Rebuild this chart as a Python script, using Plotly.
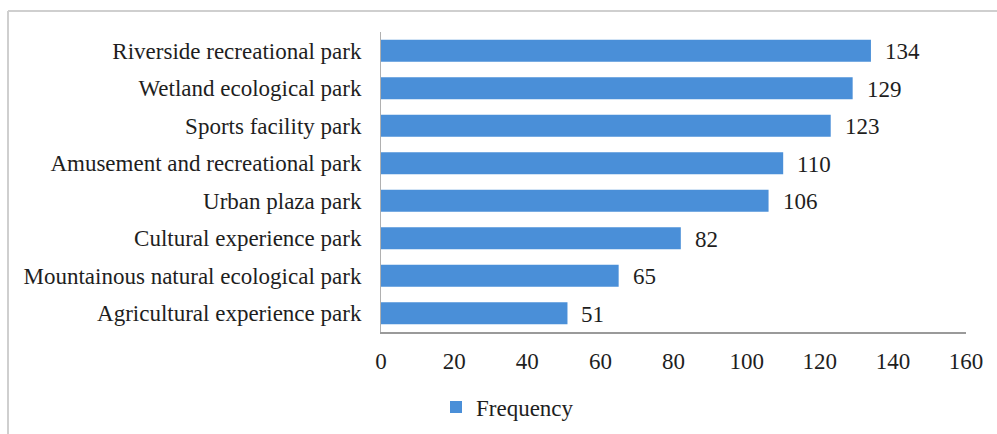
import plotly.graph_objects as go

categories = [
    "Riverside recreational park",
    "Wetland ecological park",
    "Sports facility park",
    "Amusement and recreational park",
    "Urban plaza park",
    "Cultural experience park",
    "Mountainous natural ecological park",
    "Agricultural experience park",
]
frequency = [134, 129, 123, 110, 106, 82, 65, 51]
x_ticks = [0, 20, 40, 60, 80, 100, 120, 140, 160]

W, H = 997, 434
BLUE = "#4a8fd8"
TEXT = "#1e1e1e"
FONT = "Liberation Serif"
FS = 23

fig = go.Figure()
fig.add_trace(go.Bar(
    y=categories,
    x=frequency,
    orientation="h",
    name="Frequency",
    marker=dict(color=BLUE, line=dict(width=0)),
    showlegend=True,
))

# value labels just past the end of each bar
for cat, val in zip(categories, frequency):
    fig.add_annotation(
        x=val, y=cat, text=str(val), showarrow=False,
        xanchor="left", xshift=12, yshift=-1,
        font=dict(family=FONT, size=FS, color=TEXT),
    )

# light frame around the chart area
fig.add_shape(type="line", xref="paper", yref="paper",
              x0=-373 / 585, x1=-373 / 585, y0=-1, y1=(434 - 11 - 102) / 300,
              line=dict(color="#cfcfcf", width=2))
fig.add_shape(type="line", xref="paper", yref="paper",
              x0=-373 / 585, x1=2, y0=(434 - 11 - 102) / 300, y1=(434 - 11 - 102) / 300,
              line=dict(color="#cfcfcf", width=2))

fig.update_layout(
    width=W, height=H,
    margin=dict(l=381, r=31, t=32, b=102, autoexpand=False),
    paper_bgcolor="white", plot_bgcolor="white",
    bargap=0.41,
    font=dict(family=FONT, size=FS, color=TEXT),
    xaxis=dict(
        range=[0, 160], tickvals=x_ticks, ticks="", showgrid=False,
        zeroline=False, showline=True, linecolor="#9a9a9a", linewidth=2,
        tickfont=dict(family=FONT, size=FS, color=TEXT), ticklabelstandoff=7,
    ),
    yaxis=dict(
        categoryorder="array", categoryarray=categories[::-1],
        ticks="", showgrid=False, zeroline=False, showline=True,
        linecolor="#b0b0b0", linewidth=1,
        tickfont=dict(family=FONT, size=FS, color=TEXT), ticklabelstandoff=14,
    ),
    legend=dict(
        orientation="h", x=(436 - 381) / 585, xanchor="left",
        y=-(407 - 332) / 300, yanchor="middle",
        font=dict(family=FONT, size=FS, color=TEXT),
        itemwidth=30, bgcolor="rgba(0,0,0,0)",
    ),
)

fig.write_html("out.html")
